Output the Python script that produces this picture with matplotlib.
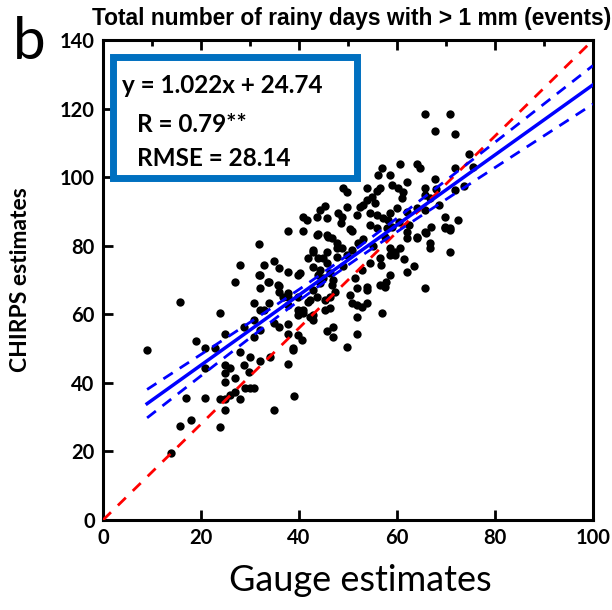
import numpy as np
import matplotlib
matplotlib.use('Agg')
import matplotlib.pyplot as plt
from matplotlib.patches import Rectangle

# gauge (x) vs CHIRPS (y) rainy days
gauge = [9, 13.9, 15.8, 15.8, 18, 17, 20.8, 23.8, 24.9, 20.8, 20.8, 22.9, 19, 24.9, 23.8, 26.9,
         24.9, 24.9, 24.9, 25.9, 26.9, 28.8, 29.8, 29, 30, 30.8, 26.9, 23.9, 24.9, 28, 25.9,
         34.9, 38.9, 28, 30, 32, 34, 37.8, 38.8, 38.8, 40.6, 39.8, 37.8, 42.9, 45.7, 46.9,
         46.9, 49.8, 51.8, 51.8,
         28, 31.8, 34.9, 32.9, 35.9, 37.8, 39.8, 40.2, 32, 33.9, 35.9, 35.7, 33.7, 35.9, 36.7,
         37.8, 37.8, 39.8, 30.8, 33.9, 32, 32.9, 39.8, 40.8, 39.8, 40.8, 41.8, 37.8, 30.8,
         34.9, 35.9, 37.8, 28.8, 30.8, 32, 41.8, 37.8, 40.8, 42.9, 43.9, 45.7, 47.8, 45.7,
         47.8, 42.9, 44.3, 46.3, 42.9, 44.3, 43.7, 31.8, 32, 
         43.7, 45.7, 46.7, 50.8, 47.8, 42.9, 44.9, 48.8, 49.8, 50.8, 52, 55.9, 54.5, 58, 59,
         62, 62, 64.1, 65.7, 66.7, 66.7, 69.8, 70.8, 70.8, 58.6, 59.6, 60.6, 58.6, 59.6, 56.7,
         62, 52.9, 58.6, 56.5, 57.8, 57.6, 65.7, 51.8, 53.9, 53.9, 50.4, 47.3, 46.7, 43.9,
         44.9, 50.8, 51.8, 52.9, 53.9, 45.3, 46.3, 42.2, 45.3, 46.3, 56.9, 42.2, 42.9, 56.5,
         65.7, 70.8, 67.8, 71.8, 74.7, 71.8, 73.7, 71.8, 60.6, 64.1, 64.7, 56.9, 56.1, 58.6,
         62, 67.8, 59, 60.2, 61.2, 56.5, 55.9, 65.7, 65.7, 53.9, 54.9, 53.9, 61, 49, 49.8,
         55.5, 52.4, 53.1, 49.8, 45.3, 44.3, 43.7, 45.7, 48, 48.8, 51.8, 54.5, 55.9, 58.6,
         57.1, 58.2, 62, 64.1, 65.7, 66.7, 69.8, 70.8, 69.8, 66.9, 64.1, 65.9, 40.8, 41.6,
         43.9, 45.9, 48.5, 50.5, 53, 55, 57.5, 60.5, 62.5, 49, 51.5, 54.5, 47, 61.5, 63.5,
         68.5, 60, 68, 72.5, 75.5]
chirps = [49.5, 19.5, 63.5, 27.3, 29.3, 35.5, 35.5, 27.2, 32.2, 44.4, 50.3, 50.2, 52.2, 54.4,
          60.4, 69.4, 45.2, 42.9, 40.2, 44.3, 41.4, 45.2, 43.2, 38.5, 38.5, 38.5, 37.3, 35.3,
          35.3, 35.3, 36.4, 32.1, 36.3, 49, 47.5, 46.5, 47.5, 45.5, 49.6, 50.2, 52.5, 54,
          54.3, 58.3, 55.1, 56.3, 53.4, 50.4, 54.2, 59.2,
          74.4, 80.5, 75.5, 74.4, 73.5, 72.3, 71.4, 72, 71.4, 69.4, 68.2, 68.5, 69.4, 66.5,
          65, 65, 66.2, 65, 63.3, 63.3, 61.2, 61.2, 61.2, 61.2, 59.8, 60.4, 63.6, 62.7, 58.3,
          57.4, 56.3, 57.1, 56.3, 53.4, 55.4, 76.4, 84.3, 84.3, 78.2, 76.4, 78.2, 79.3, 74.9,
          76.7, 73.8, 72.9, 72, 67, 69.1, 65, 71.4, 67.6,
          83.1, 83.1, 82.2, 84.3, 80.8, 78.7, 76.4, 79.3, 77.3, 78.7, 80.8, 85.1, 86, 85.1,
          85.4, 82.2, 84, 82.2, 84, 80.8, 79.3, 85.1, 85.1, 78.2, 79.3, 78.2, 79.3, 77.3, 77.3,
          74.4, 72.3, 72.9, 71.4, 68.5, 69.4, 67.9, 67.6, 67.6, 67.9, 67, 65.6, 66.5, 68.5,
          71.4, 70.6, 63.3, 62.7, 62.1, 63.3, 64.1, 65, 64.1, 61.2, 61.8, 60.4, 59.2, 59.8,
          76.4,
          118.4, 118.4, 113.4, 112.5, 106.7, 102.6, 97.4, 96.2, 103.8, 103.8, 102.6, 102.6,
          100.6, 100.6, 98.5, 99.4, 97.7, 96.8, 95.6, 96.8, 95.9, 96.8, 94.8, 96.8, 94.2, 93.3,
          93.9, 96.8, 95.6, 92.4, 91.3, 91.8, 91.3, 91.6, 90.4, 88.4, 88, 89.5, 88.4, 88.9,
          89.5, 88.9, 89.5, 88, 87.5, 89.8, 91, 90.4, 93.9, 85.4, 84.5, 88.4, 85.4, 82.5, 83.7,
          88.4, 87.5, 83.4, 82.5, 86.5, 85, 82, 80, 82.5, 87, 86, 74, 70.5, 75, 70, 76, 74,
          92, 91, 96.5, 87.5, 103]

# regression from the annotation
slope, intercept = 1.022, 24.74
r_text = 'R = 0.79**'
rmse_text = 'RMSE = 28.14'

gauge = np.array(gauge)
chirps = np.array(chirps)

plt.rcParams['font.family'] = ['Lato', 'DejaVu Sans']

fig = plt.figure(figsize=(6.12, 6.10), dpi=100)
ax = fig.add_axes([0.1683, 0.1475, 0.8007, 0.7869])

# 1:1 diagonal of the frame
ax.plot([0, 100], [0, 140], color='red', linestyle=(0, (4, 3.5)), linewidth=2, zorder=3)

# fit + 95% confidence band
xs = np.linspace(gauge.min(), 100, 200)
fit = slope * xs + intercept
n = len(gauge)
res = chirps - (slope * gauge + intercept)
s = np.sqrt(np.sum(res ** 2) / (n - 2))
sxx = np.sum((gauge - gauge.mean()) ** 2)
band = 1.9 * s * np.sqrt(1.0 / n + (xs - gauge.mean()) ** 2 / sxx)

ax.scatter(gauge, chirps, s=36, color='black', zorder=2, linewidths=0)
ax.plot(xs, fit, color='#0000ff', linewidth=2.5, zorder=4)
ax.plot(xs, fit + band, color='#0000ff', linestyle=(0, (4, 3)), linewidth=2, zorder=4)
ax.plot(xs, fit - band, color='#0000ff', linestyle=(0, (4, 3)), linewidth=2, zorder=4)

ax.set_xlim(0, 100)
ax.set_ylim(0, 140)
ax.set_xticks([0, 20, 40, 60, 80, 100])
ax.set_yticks([0, 20, 40, 60, 80, 100, 120, 140])
ax.set_xticks(np.arange(10, 100, 20), minor=True)
for sp in ax.spines.values():
    sp.set_linewidth(2.2)
ax.tick_params(which='major', direction='in', length=7, width=2, labelsize=14.5,
               top=True, right=False, pad=6)
ax.tick_params(which='minor', direction='in', length=4, width=2, top=True, bottom=False)
for lab in ax.get_xticklabels() + ax.get_yticklabels():
    lab.set_fontweight('bold')

fig.text(0.588, 0.049, 'Gauge estimates', ha='center', va='center', fontsize=26)
fig.text(0.033, 0.541, 'CHIRPS estimates', rotation=90, ha='center', va='center',
         fontsize=16.5, fontweight='bold')
fig.text(0.575, 0.970, 'Total number of rainy days with > 1 mm (events)',
         ha='center', va='center', fontsize=16.4, fontweight='bold',
         family=['Liberation Sans Narrow', 'Liberation Sans', 'DejaVu Sans'])
fig.text(0.048, 0.93, 'b', ha='center', va='center', fontsize=42)

# stats box
box = Rectangle((0.0204, 0.7125), 0.498, 0.252, transform=ax.transAxes, fill=False,
                edgecolor='#0070c0', linewidth=5, zorder=5)
ax.add_patch(box)
ax.text(0.039, 0.906, 'y = %.3fx + %.2f' % (slope, intercept), transform=ax.transAxes,
        fontsize=17.5, fontweight='bold', va='center')
ax.text(0.069, 0.823, r_text, transform=ax.transAxes, fontsize=17.5, fontweight='bold',
        va='center')
ax.text(0.069, 0.754, rmse_text, transform=ax.transAxes, fontsize=17.5, fontweight='bold',
        va='center')

plt.savefig('out.png', dpi=100)
